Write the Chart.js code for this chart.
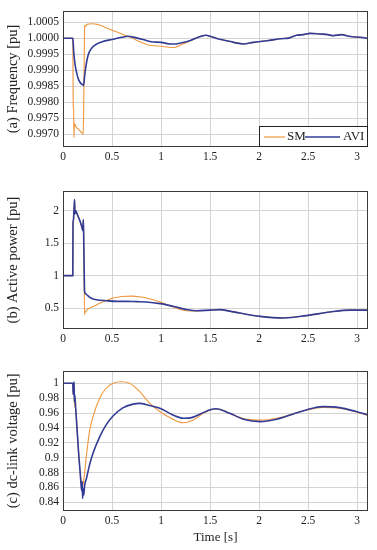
<!DOCTYPE html>
<html>
<head>
<meta charset="utf-8">
<script src="https://cdn.jsdelivr.net/npm/chart.js@4.4.1/dist/chart.umd.min.js"></script>
<style>
  html, body { margin: 0; padding: 0; background: #fff; }
  body { width: 377px; height: 550px; position: relative; overflow: hidden; }
  canvas { position: absolute; left: 0; }
</style>
</head>
<body>
<canvas id="cA" width="377" height="170" style="top:0px"></canvas>
<canvas id="cB" width="377" height="170" style="top:180px"></canvas>
<canvas id="cC" width="377" height="190" style="top:360px"></canvas>
<script>
// ---------- data ----------
const seriesNames = ["SM", "AVI"];
const xTicks = [0, 0.5, 1, 1.5, 2, 2.5, 3];
const xTickLabels = ["0", "0.5", "1", "1.5", "2", "2.5", "3"];

// (a) Frequency
const freqTicks = [0.9970, 0.9975, 0.9980, 0.9985, 0.9990, 0.9995, 1.0000, 1.0005];
const freqTickLabels = ["0.9970", "0.9975", "0.9980", "0.9985", "0.9990", "0.9995", "1.0000", "1.0005"];
const tFreqSM = [0, 0.100, 0.104, 0.108, 0.112, 0.116, 0.120, 0.125, 0.135, 0.150, 0.170, 0.190, 0.200, 0.205, 0.210, 0.215, 0.220, 0.225, 0.230, 0.240, 0.260, 0.300, 0.350, 0.400, 0.450, 0.500, 0.600, 0.650, 0.700, 0.800, 0.900, 1.000, 1.100, 1.150, 1.200, 1.250, 1.300, 1.400, 1.460, 1.500, 1.570, 1.670, 1.740, 1.840, 1.940, 2.080, 2.210, 2.310, 2.380, 2.450, 2.520, 2.620, 2.700, 2.760, 2.840, 2.930, 3.030, 3.110];
const freqSM = [1.00000, 1.00000, 0.99790, 0.99780, 0.99690, 0.99735, 0.99725, 0.99730, 0.99722, 0.99718, 0.99712, 0.99706, 0.99702, 0.99700, 0.99760, 0.99900, 1.00030, 1.00040, 1.00036, 1.00042, 1.00044, 1.00045, 1.00043, 1.00038, 1.00031, 1.00025, 1.00013, 1.00007, 1.00001, 0.99987, 0.99977, 0.99975, 0.99971, 0.99972, 0.99979, 0.99985, 0.99993, 1.00005, 1.00009, 1.00006, 0.99999, 0.99992, 0.99987, 0.99982, 0.99987, 0.99992, 0.99998, 1.00001, 1.00009, 1.00011, 1.00015, 1.00013, 1.00011, 1.00008, 1.00011, 1.00005, 1.00003, 0.99999];
const tFreqAVI = [0, 0.100, 0.104, 0.110, 0.120, 0.130, 0.145, 0.160, 0.180, 0.200, 0.210, 0.220, 0.235, 0.250, 0.270, 0.300, 0.350, 0.400, 0.500, 0.600, 0.660, 0.750, 0.850, 0.900, 1.000, 1.100, 1.150, 1.200, 1.300, 1.400, 1.460, 1.500, 1.570, 1.670, 1.740, 1.840, 1.940, 2.080, 2.210, 2.310, 2.380, 2.450, 2.520, 2.620, 2.700, 2.760, 2.840, 2.930, 3.030, 3.110];
const freqAVI = [1.00000, 1.00000, 0.99985, 0.99955, 0.99925, 0.99905, 0.99885, 0.99870, 0.99860, 0.99855, 0.99853, 0.99880, 0.99915, 0.99940, 0.99958, 0.99972, 0.99983, 0.99989, 0.99996, 1.00003, 1.00006, 1.00001, 0.99993, 0.99989, 0.99987, 0.99982, 0.99982, 0.99985, 0.99993, 1.00005, 1.00009, 1.00006, 0.99999, 0.99992, 0.99987, 0.99982, 0.99987, 0.99992, 0.99998, 1.00001, 1.00009, 1.00011, 1.00015, 1.00013, 1.00011, 1.00008, 1.00011, 1.00005, 1.00003, 0.99999];

// (b) Active power
const powTicks = [0.5, 1, 1.5, 2];
const powTickLabels = ["0.5", "1", "1.5", "2"];
const tPowAVI = [0, 0.100, 0.102, 0.106, 0.112, 0.118, 0.122, 0.128, 0.140, 0.160, 0.180, 0.195, 0.203, 0.207, 0.210, 0.215, 0.220, 0.225, 0.240, 0.270, 0.300, 0.340, 0.440, 0.550, 0.650, 0.750, 0.850, 0.990, 1.120, 1.260, 1.360, 1.500, 1.600, 1.700, 1.800, 2.010, 2.250, 2.480, 2.720, 2.930, 3.110];
const powAVI = [1.0, 1.0, 1.80, 1.85, 2.00, 2.17, 1.95, 2.00, 1.96, 1.89, 1.81, 1.73, 1.69, 1.86, 1.70, 1.20, 0.76, 0.73, 0.71, 0.67, 0.645, 0.63, 0.615, 0.605, 0.605, 0.600, 0.595, 0.570, 0.530, 0.480, 0.460, 0.470, 0.477, 0.455, 0.426, 0.374, 0.350, 0.385, 0.440, 0.470, 0.470];
const tPowSM = [0, 0.100, 0.102, 0.106, 0.112, 0.118, 0.122, 0.128, 0.140, 0.160, 0.180, 0.195, 0.203, 0.207, 0.210, 0.215, 0.220, 0.225, 0.230, 0.240, 0.270, 0.340, 0.410, 0.510, 0.600, 0.700, 0.780, 0.850, 0.990, 1.120, 1.260, 1.360, 1.500, 1.600, 1.700, 1.800, 2.010, 2.250, 2.480, 2.720, 2.930, 3.110];
const powSM = [1.0, 1.0, 1.80, 1.85, 2.00, 2.17, 1.95, 2.00, 1.96, 1.89, 1.81, 1.73, 1.69, 1.86, 1.70, 1.00, 0.40, 0.45, 0.44, 0.47, 0.50, 0.55, 0.60, 0.655, 0.680, 0.685, 0.675, 0.655, 0.595, 0.520, 0.460, 0.457, 0.470, 0.477, 0.455, 0.426, 0.374, 0.350, 0.385, 0.440, 0.470, 0.470];

// (c) dc-link voltage
const vdcTicks = [0.84, 0.86, 0.88, 0.90, 0.92, 0.94, 0.96, 0.98, 1.00];
const vdcTickLabels = ["0.84", "0.86", "0.88", "0.9", "0.92", "0.94", "0.96", "0.98", "1"];
const tVdcAVI = [0, 0.100, 0.104, 0.107, 0.110, 0.113, 0.116, 0.120, 0.130, 0.145, 0.160, 0.175, 0.185, 0.192, 0.196, 0.200, 0.205, 0.212, 0.220, 0.240, 0.270, 0.306, 0.374, 0.440, 0.510, 0.610, 0.714, 0.780, 0.885, 0.987, 1.120, 1.230, 1.300, 1.395, 1.500, 1.560, 1.700, 1.840, 2.010, 2.180, 2.350, 2.480, 2.650, 2.820, 2.990, 3.110];
const vdcAVI = [1.0, 1.0, 0.985, 1.0, 0.990, 1.002, 0.975, 0.985, 0.965, 0.935, 0.905, 0.880, 0.862, 0.855, 0.868, 0.845, 0.858, 0.850, 0.862, 0.8725, 0.890, 0.906, 0.928, 0.944, 0.956, 0.967, 0.972, 0.973, 0.970, 0.9665, 0.9575, 0.953, 0.9535, 0.9584, 0.9645, 0.9658, 0.9597, 0.9517, 0.9485, 0.9517, 0.9588, 0.9642, 0.9686, 0.9673, 0.962, 0.9575];
const tVdcSM = [0, 0.100, 0.104, 0.107, 0.113, 0.116, 0.130, 0.145, 0.160, 0.175, 0.190, 0.200, 0.210, 0.240, 0.270, 0.306, 0.374, 0.440, 0.510, 0.596, 0.680, 0.780, 0.885, 0.987, 1.120, 1.225, 1.330, 1.430, 1.530, 1.580, 1.700, 1.840, 2.010, 2.180, 2.350, 2.480, 2.650, 2.820, 2.990, 3.110];
const vdcSM = [1.0, 1.0, 0.985, 1.0, 1.0, 0.975, 0.965, 0.935, 0.905, 0.880, 0.865, 0.862, 0.868, 0.904, 0.935, 0.955, 0.980, 0.9933, 1.000, 1.002, 1.000, 0.989, 0.973, 0.962, 0.9517, 0.947, 0.9507, 0.9597, 0.965, 0.9655, 0.9595, 0.9525, 0.9505, 0.9530, 0.9590, 0.9638, 0.9675, 0.9665, 0.9615, 0.957];

// ---------- styling ----------
const ORANGE = '#F0963C';
const BLUE = '#323C96';
const FONT = "'Liberation Serif', 'Times New Roman', serif";
Chart.defaults.font.family = FONT;
Chart.defaults.font.size = 11;
Chart.defaults.color = '#222';

const pts = (ts, vs) => ts.map((t, i) => ({ x: t, y: vs[i] }));

const framePlugin = {
  id: 'frame',
  afterDatasetsDraw(chart) {
    const a = chart.chartArea, ctx = chart.ctx;
    ctx.save();
    ctx.strokeStyle = '#3a3a3a';
    ctx.lineWidth = 1;
    ctx.strokeRect(Math.round(a.left) + 0.5, Math.round(a.top) + 0.5,
                   Math.round(a.right - a.left) - 1, Math.round(a.bottom - a.top) - 1);
    ctx.restore();
  }
};

const legendPlugin = {
  id: 'boxLegend',
  afterDraw(chart) {
    const a = chart.chartArea, ctx = chart.ctx;
    const w = 109, h = 21;
    const x0 = Math.round(a.right) - w, y0 = Math.round(a.bottom) - h;
    ctx.save();
    ctx.fillStyle = '#fff';
    ctx.fillRect(x0, y0, w, h);
    ctx.strokeStyle = '#222';
    ctx.lineWidth = 1;
    ctx.strokeRect(x0 + 0.5, y0 + 0.5, w - 1, h - 1);
    const cy = y0 + h / 2 + 0.5;
    ctx.lineWidth = 1.2;
    ctx.strokeStyle = ORANGE;
    ctx.beginPath(); ctx.moveTo(x0 + 5, cy); ctx.lineTo(x0 + 26, cy); ctx.stroke();
    ctx.lineWidth = 1.6;
    ctx.strokeStyle = BLUE;
    ctx.beginPath(); ctx.moveTo(x0 + 46, cy); ctx.lineTo(x0 + 81, cy); ctx.stroke();
    ctx.fillStyle = '#222';
    ctx.font = "13px " + FONT;
    ctx.textBaseline = 'middle';
    ctx.fillText(seriesNames[0], x0 + 28, cy);
    ctx.fillText(seriesNames[1], x0 + 84, cy);
    ctx.restore();
  }
};

function makeChart(id, cfg) {
  const datasets = [
    { label: seriesNames[0], data: pts(cfg.tSM, cfg.ySM), borderColor: ORANGE, borderWidth: 1.1, order: 2 },
    { label: seriesNames[1], data: pts(cfg.tAVI, cfg.yAVI), borderColor: BLUE, borderWidth: 1.6, order: 1 }
  ];
  datasets.forEach(d => { d.pointRadius = 0; d.fill = false; d.cubicInterpolationMode = 'monotone'; });
  return new Chart(document.getElementById(id), {
    type: 'line',
    data: { datasets },
    plugins: [framePlugin].concat(cfg.legend ? [legendPlugin] : []),
    options: {
      responsive: false,
      animation: false,
      devicePixelRatio: 1,
      layout: { padding: { left: 0, right: 9, top: cfg.padTop, bottom: cfg.padBottom } },
      plugins: { legend: { display: false }, tooltip: { enabled: false } },
      scales: {
        x: {
          type: 'linear', min: 0, max: 3.11,
          afterBuildTicks: s => { s.ticks = xTicks.map(v => ({ value: v })); },
          afterFit: s => { s.height = cfg.xHeight; },
          ticks: { callback: (v, i) => xTickLabels[i], padding: 3, maxRotation: 0, font: { size: 11.5 } },
          grid: { color: '#d4d4d4', lineWidth: 1, drawTicks: false },
          border: { display: false },
          title: cfg.xTitle ? { display: true, text: cfg.xTitle, font: { size: 13 }, padding: { top: 0, bottom: 0 } } : { display: false }
        },
        y: {
          type: 'linear', min: cfg.yMin, max: cfg.yMax,
          afterBuildTicks: s => { s.ticks = cfg.yTicks.map(v => ({ value: v })); },
          afterFit: s => { s.width = 63; },
          ticks: { callback: (v, i) => cfg.yLabels[i], padding: 4, font: { size: 11.5 } },
          grid: { color: '#d4d4d4', lineWidth: 1, drawTicks: false },
          border: { display: false },
          title: { display: true, text: cfg.yTitle, font: { size: 14.5 }, padding: { top: 4.5, bottom: 0 } }
        }
      }
    }
  });
}

makeChart('cA', { tSM: tFreqSM, ySM: freqSM, tAVI: tFreqAVI, yAVI: freqAVI,
  yMin: 0.99661, yMax: 1.00085, yTicks: freqTicks, yLabels: freqTickLabels,
  yTitle: '(a) Frequency [pu]', padTop: 7.5, padBottom: 3, xHeight: 20, legend: true });
makeChart('cB', { tSM: tPowSM, ySM: powSM, tAVI: tPowAVI, yAVI: powAVI,
  yMin: 0.18, yMax: 2.30, yTicks: powTicks, yLabels: powTickLabels,
  yTitle: '(b) Active power [pu]', padTop: 11, padBottom: 1, xHeight: 20 });
makeChart('cC', { tSM: tVdcSM, ySM: vdcSM, tAVI: tVdcAVI, yAVI: vdcAVI,
  yMin: 0.8287, yMax: 1.0165, yTicks: vdcTicks, yLabels: vdcTickLabels,
  yTitle: '(c) dc-link voltage [pu]', padTop: 11, padBottom: 4.3, xHeight: 35, xTitle: 'Time [s]' });
</script>
</body>
</html>
